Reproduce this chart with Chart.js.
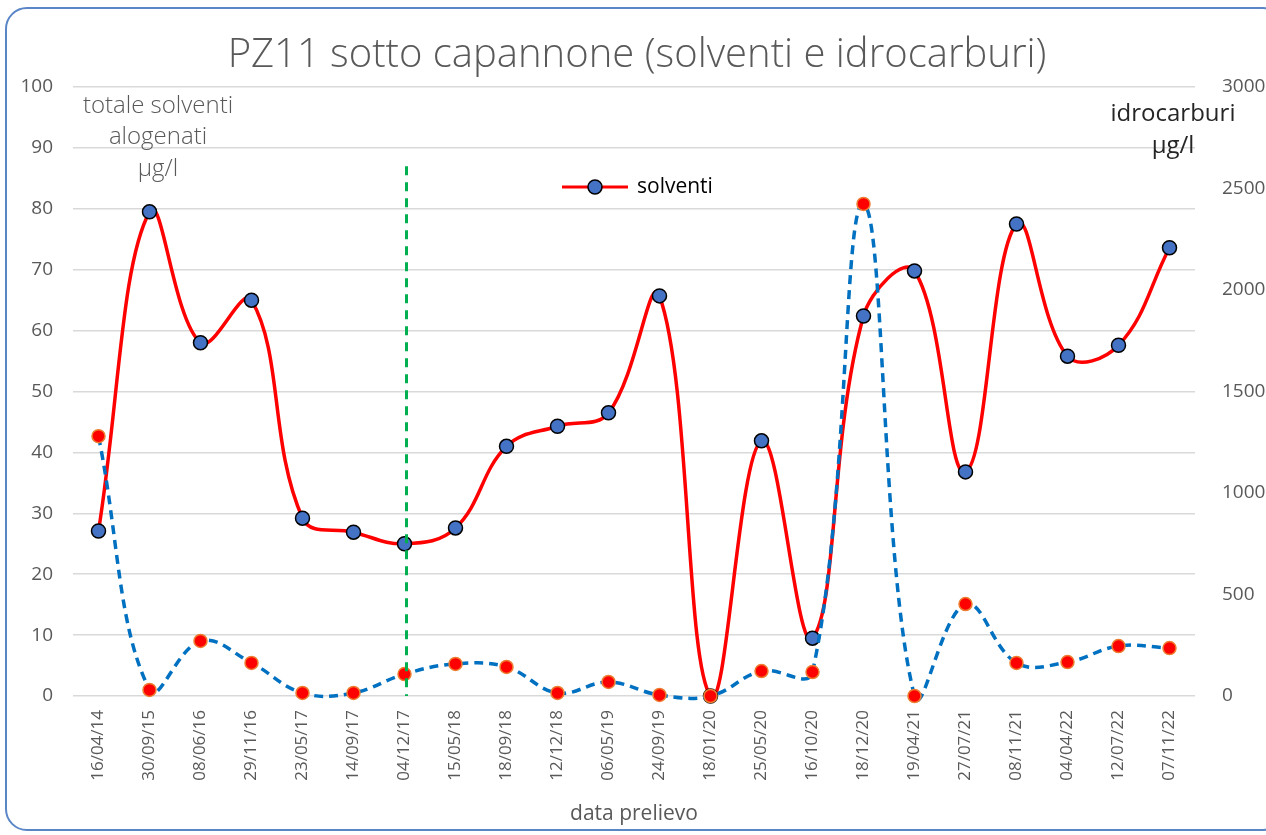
<!DOCTYPE html>
<html>
<head>
<meta charset="utf-8">
<script src="https://cdn.jsdelivr.net/npm/chart.js@4.4.0/dist/chart.umd.min.js"></script>
<style>
  html, body { margin: 0; padding: 0; background: #fff; overflow: hidden; }
  #cornice {
    position: absolute; left: 5px; top: 7px; width: 1280px; height: 824px;
    border: 2px solid #5a86c8; border-radius: 22px; box-sizing: border-box;
  }
  #grafico { position: absolute; left: 0; top: 0; }
</style>
</head>
<body>
<div id="cornice"></div>
<canvas id="grafico" width="1266" height="835"></canvas>
<script>
// dati
const categorie = ['16/04/14', '30/09/15', '08/06/16', '29/11/16', '23/05/17', '14/09/17', '04/12/17',
    '15/05/18', '18/09/18', '12/12/18', '06/05/19', '24/09/19', '18/01/20', '25/05/20', '16/10/20',
    '18/12/20', '19/04/21', '27/07/21', '08/11/21', '04/04/22', '12/07/22', '07/11/22'];
const solventi = [27.1, 79.5, 58.0, 65.0, 29.2, 26.9, 25.0, 27.6, 41.0, 44.3, 46.5, 65.7, 0,
    41.9, 9.5, 62.4, 69.8, 36.8, 77.5, 55.8, 57.6, 73.6];
const idrocarburi = [1280, 30, 271, 163, 15, 15, 108, 158, 143, 15, 69, 5, 0,
    123, 118, 2424, 0, 453, 163, 167, 246, 236];
const dataSpartiacque = '04/12/17';

const grigio = '#595959';

// testi fuori dagli assi: titolo, unità, legenda, linea verde
const decorazioni = {
    id: 'decorazioni',
    afterDatasetsDraw(chart) {
        const ctx = chart.ctx;
        const x = chart.scales.x.getPixelForValue(categorie.indexOf(dataSpartiacque)) + 2;
        const yTop = chart.scales.ySolv.getPixelForValue(87);
        const yBot = chart.scales.ySolv.getPixelForValue(0);
        ctx.save();
        ctx.strokeStyle = '#00b050';
        ctx.lineWidth = 3;
        ctx.setLineDash([9, 7]);
        ctx.beginPath();
        ctx.moveTo(x, yTop);
        ctx.lineTo(x, yBot);
        ctx.stroke();
        ctx.restore();
    },
    afterDraw(chart) {
        const ctx = chart.ctx;
        ctx.save();
        ctx.textAlign = 'center';
        ctx.textBaseline = 'middle';

        ctx.fillStyle = grigio;
        ctx.font = '300 40px "Open Sans"';
        ctx.fillText('PZ11 sotto capannone (solventi e idrocarburi)', 637, 56);

        ctx.font = '300 24px "Open Sans"';
        ctx.fillText('totale solventi', 158, 106);
        ctx.fillText('alogenati', 158, 137);
        ctx.fillText('\u03bcg/l', 158, 169);

        ctx.fillStyle = '#262626';
        ctx.font = '24px "Open Sans"';
        ctx.fillText('idrocarburi', 1173, 114);
        ctx.fillText('\u03bcg/l', 1173, 146);

        // legenda
        ctx.strokeStyle = '#ff0000';
        ctx.lineWidth = 3;
        ctx.beginPath();
        ctx.moveTo(562, 187);
        ctx.lineTo(628, 187);
        ctx.stroke();
        ctx.fillStyle = '#4472c4';
        ctx.strokeStyle = '#000';
        ctx.lineWidth = 1.5;
        ctx.beginPath();
        ctx.arc(595, 187, 7, 0, Math.PI * 2);
        ctx.fill();
        ctx.stroke();
        ctx.fillStyle = '#000';
        ctx.textAlign = 'left';
        ctx.font = '21px "Open Sans"';
        ctx.fillText('solventi', 637, 187);
        ctx.restore();
    }
};

new Chart(document.getElementById('grafico').getContext('2d'), {
    type: 'line',
    data: {
        labels: categorie,
        datasets: [{
            label: 'idrocarburi',
            data: idrocarburi,
            yAxisID: 'yIdro',
            borderColor: '#0070c0',
            borderWidth: 3.5,
            borderDash: [9, 6],
            pointRadius: 6.5,
            pointBackgroundColor: '#ff0000',
            pointBorderColor: '#ed7d31',
            pointBorderWidth: 1.5,
            tension: 0.4,
            clip: false
        }, {
            label: 'solventi',
            data: solventi,
            yAxisID: 'ySolv',
            borderColor: '#ff0000',
            borderWidth: 3.5,
            pointRadius: 7,
            pointBackgroundColor: '#4472c4',
            pointBorderColor: '#000000',
            pointBorderWidth: 1.5,
            tension: 0.4,
            clip: false
        }]
    },
    options: {
        responsive: false,
        animation: false,
        layout: { padding: { top: 87, left: 0, right: 0, bottom: 0 } },
        elements: { line: { capBezierPoints: false } },
        plugins: {
            legend: { display: false },
            tooltip: { enabled: false }
        },
        scales: {
            x: {
                offset: true,
                grid: { display: false },
                border: { display: false },
                ticks: {
                    color: grigio,
                    font: { family: 'Open Sans', size: 17 },
                    minRotation: 90, maxRotation: 90,
                    autoSkip: false, padding: 6
                },
                title: {
                    display: true, text: 'data prelievo', color: grigio,
                    font: { family: 'Open Sans', size: 21 },
                    padding: { top: 6, bottom: 8 }
                },
                afterFit(s) { s.height = 139; }
            },
            ySolv: {
                position: 'left',
                min: 0, max: 100,
                grid: { color: '#d9d9d9', lineWidth: 1.5, drawTicks: false },
                border: { display: false },
                ticks: {
                    stepSize: 10, color: grigio, padding: 20,
                    font: { family: 'Open Sans', size: 19 }
                },
                afterFit(s) { s.width = 73; }
            },
            yIdro: {
                position: 'right',
                min: 0, max: 3000,
                grid: { display: false },
                border: { display: false },
                ticks: {
                    stepSize: 500, color: grigio, padding: 19,
                    font: { family: 'Open Sans', size: 19 },
                    callback: v => String(v)
                },
                afterFit(s) { s.width = 71; }
            }
        }
    },
    plugins: [decorazioni]
});
</script>
</body>
</html>
